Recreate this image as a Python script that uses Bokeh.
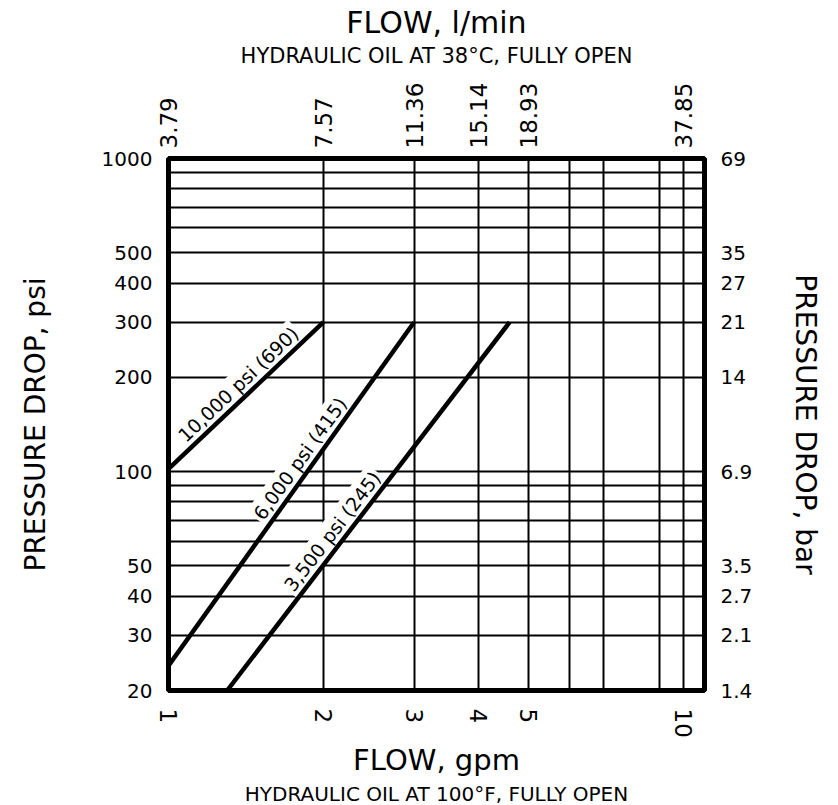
import math
from bokeh.plotting import figure
from bokeh.models import Range1d, LogAxis, FixedTicker, Title
from bokeh.core.properties import value
from bokeh.embed import file_html
from bokeh.resources import INLINE

# ---------------- data ----------------
flow_gpm_ticks = [1, 2, 3, 4, 5, 10]
flow_gpm_labels = ["1", "2", "3", "4", "5", "10"]
flow_lpm_labels = ["3.79", "7.57", "11.36", "15.14", "18.93", "37.85"]
psi_ticks = [20, 30, 40, 50, 100, 200, 300, 400, 500, 1000]
psi_labels = ["20", "30", "40", "50", "100", "200", "300", "400", "500", "1000"]
bar_labels = ["1.4", "2.1", "2.7", "3.5", "6.9", "14", "21", "27", "35", "69"]
x_grid = [2, 3, 4, 5, 6, 7, 9, 10]
y_grid = [30, 40, 50, 60, 70, 80, 90, 100, 200, 300, 400, 500, 600, 700, 800, 900]

series_names = ["10,000 psi (690)", "6,000 psi (415)", "3,500 psi (245)"]
series_flow = [[1.0, 2.0], [1.0, 3.0], [1.3, 4.6]]
series_dp = [[102, 300], [24, 300], [20, 300]]

# ---------------- style ----------------
FONT = "DejaVu Sans"
X0, X1 = 1, 11
Y0, Y1 = 20, 1000
W, H = 838, 805
ML, MR, MT, MB = 168, 134, 158, 115
FW, FH = W - ML - MR, H - MT - MB
label_frac = [0.51, 0.58, 0.41]
label_gap = 13.5

p = figure(width=W, height=H, x_axis_type="log", y_axis_type="log",
           x_range=Range1d(X0, X1), y_range=Range1d(Y0, Y1),
           output_backend="svg", toolbar_location=None, title=None,
           min_border_left=ML, min_border_right=MR,
           min_border_top=MT, min_border_bottom=MB)
p.background_fill_color = "white"
p.border_fill_color = "white"
p.outline_line_color = "black"
p.outline_line_width = 5

p.xgrid.ticker = FixedTicker(ticks=x_grid, minor_ticks=[])
p.ygrid.ticker = FixedTicker(ticks=y_grid, minor_ticks=[])
for g in (p.xgrid[0], p.ygrid[0]):
    g.grid_line_color = "black"
    g.grid_line_width = 2
    g.grid_line_alpha = 1.0


def style_axis(ax, size):
    ax.axis_line_color = None
    ax.major_tick_line_color = None
    ax.minor_tick_line_color = None
    ax.major_tick_out = 0
    ax.major_tick_in = 0
    ax.minor_tick_out = 0
    ax.minor_tick_in = 0
    ax.major_label_text_font = FONT
    ax.major_label_text_font_size = size
    ax.major_label_text_color = "black"
    ax.axis_label_text_font = FONT
    ax.axis_label_text_font_style = "normal"
    ax.axis_label_text_color = "black"


# bottom axis
xb = p.xaxis[0]
style_axis(xb, "23px")
xb.ticker = FixedTicker(ticks=flow_gpm_ticks, minor_ticks=[])
xb.major_label_overrides = dict(zip(flow_gpm_ticks, flow_gpm_labels))
xb.major_label_orientation = "vertical"
xb.major_label_standoff = 18
xb.axis_label = "FLOW, gpm"
xb.axis_label_text_font_size = "29px"
xb.axis_label_standoff = 2

# left axis
yl = p.yaxis[0]
style_axis(yl, "20px")
yl.ticker = FixedTicker(ticks=psi_ticks, minor_ticks=[])
yl.major_label_overrides = dict(zip(psi_ticks, psi_labels))
yl.major_label_standoff = 16
yl.axis_label = "PRESSURE DROP, psi"
yl.axis_label_text_font_size = "28px"
yl.axis_label_standoff = 47

# right axis
yr = LogAxis(ticker=FixedTicker(ticks=psi_ticks, minor_ticks=[]))
style_axis(yr, "20px")
yr.major_label_overrides = dict(zip(psi_ticks, bar_labels))
yr.major_label_standoff = 16
yr.axis_label = "PRESSURE DROP, bar"
yr.axis_label_text_font_size = "28px"
yr.axis_label_standoff = 34
p.add_layout(yr, "right")

# top axis
xt = LogAxis(ticker=FixedTicker(ticks=flow_gpm_ticks, minor_ticks=[]))
style_axis(xt, "23px")
xt.major_label_overrides = dict(zip(flow_gpm_ticks, flow_lpm_labels))
xt.major_label_orientation = "vertical"
xt.major_label_standoff = 10
xt.axis_label = "HYDRAULIC OIL AT 38°C, FULLY OPEN"
xt.axis_label_text_font_size = "21px"
xt.axis_label_standoff = 12
p.add_layout(xt, "above")

p.add_layout(Title(text="FLOW, l/min", align="center", text_font=FONT,
                   text_font_size="30px", text_font_style="normal",
                   text_color="black", standoff=2), "above")
p.add_layout(Title(text="HYDRAULIC OIL AT 100°F, FULLY OPEN", align="center",
                   text_font=FONT, text_font_size="20px",
                   text_font_style="normal", text_color="black",
                   standoff=0), "below")

# labels along the curves (placed from each curve's own data)
px_x = FW / (math.log10(X1) - math.log10(X0))
px_y = FH / (math.log10(Y1) - math.log10(Y0))
lab_x, lab_y, lab_a = [], [], []
for fl, dp, t in zip(series_flow, series_dp, label_frac):
    lx0, lx1 = math.log10(fl[0]), math.log10(fl[1])
    ly0, ly1 = math.log10(dp[0]), math.log10(dp[1])
    ang = math.atan2((ly1 - ly0) * px_y, (lx1 - lx0) * px_x)
    fx = lx0 + t * (lx1 - lx0)
    fy = ly0 + t * (ly1 - ly0)
    cx = fx - math.sin(ang) * label_gap / px_x
    cy = fy + math.cos(ang) * label_gap / px_y
    lab_x.append(10 ** cx)
    lab_y.append(10 ** cy)
    lab_a.append(ang)

p.text(x=lab_x, y=lab_y, text=series_names, angle=lab_a,
       text_align="center", text_baseline="middle",
       text_font=value(FONT), text_font_size="19px", text_color="black",
       background_fill_color="white", padding=2)

for fl, dp in zip(series_flow, series_dp):
    p.line(fl, dp, line_color="black", line_width=4.5)

open("out.html", "w").write(file_html(p, INLINE))
